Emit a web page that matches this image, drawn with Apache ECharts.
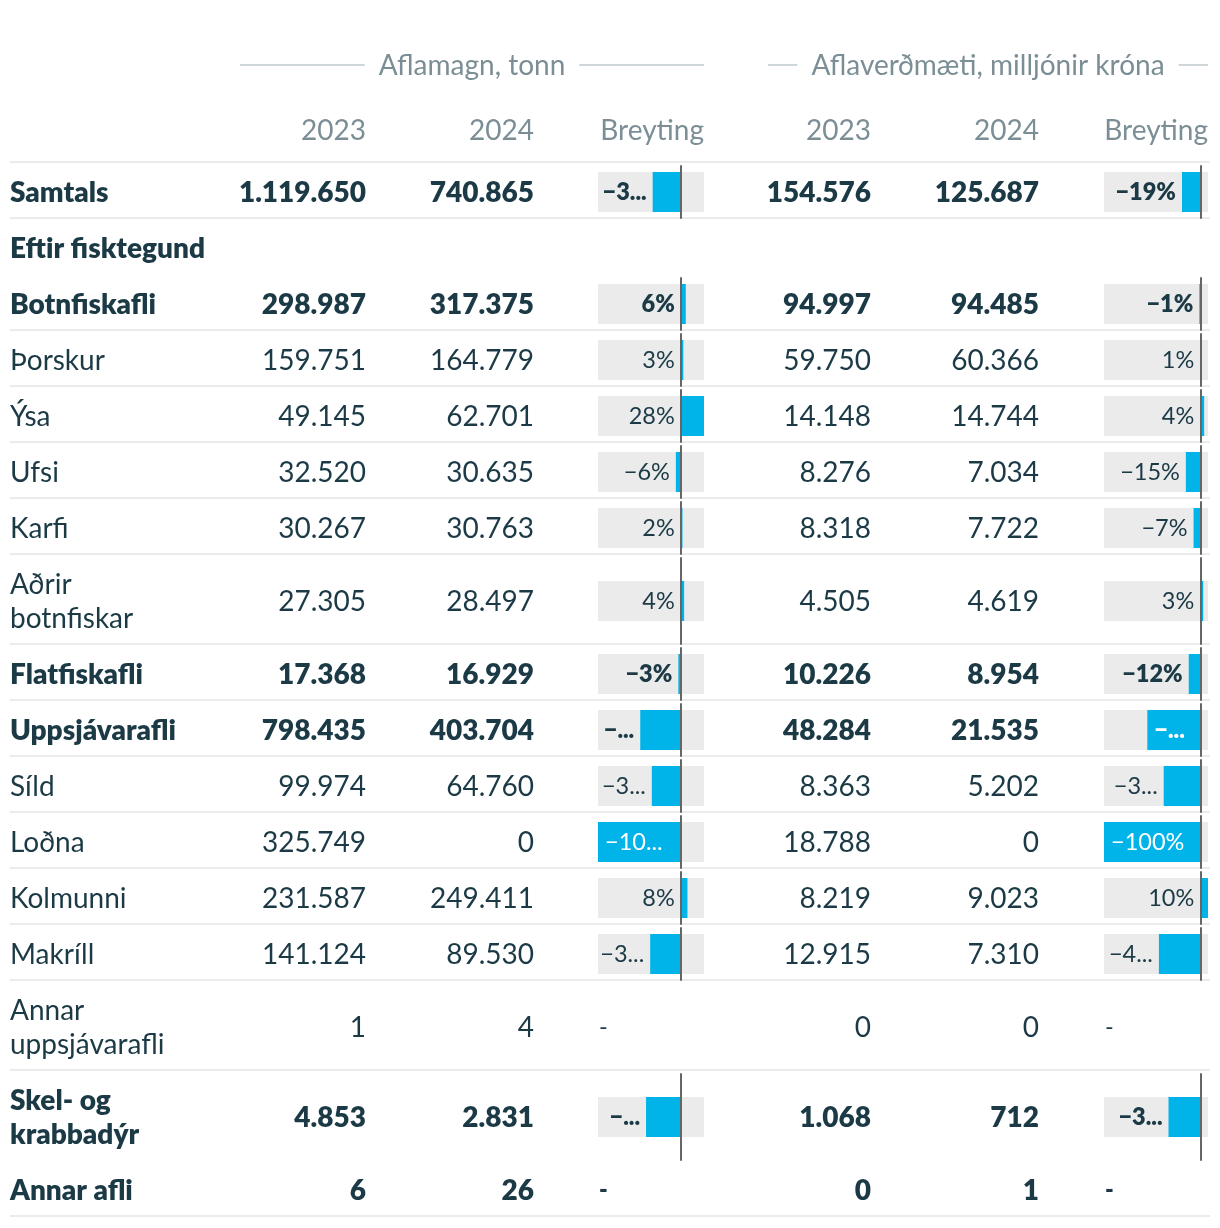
<!DOCTYPE html>
<html>
<head>
<meta charset="utf-8">
<script src="https://cdn.jsdelivr.net/npm/echarts@6/dist/echarts.min.js"></script>
<style>
html,body{margin:0;padding:0;background:#fff;}
#chart{width:1220px;height:1228px;}
</style>
</head>
<body>
<div id="chart"></div>
<script>
// ---------- DATA ----------
const groupTitles = ['Aflamagn, tonn', 'Aflaverðmæti, milljónir króna'];
const columnHeaders = ['2023', '2024', 'Breyting'];
const rowNames = ['Samtals', 'Eftir fisktegund', 'Botnfiskafli', 'Þorskur', 'Ýsa', 'Ufsi', 'Karfi',
  'Aðrir\nbotnfiskar', 'Flatfiskafli', 'Uppsjávarafli', 'Síld', 'Loðna', 'Kolmunni', 'Makríll',
  'Annar\nuppsjávarafli', 'Skel- og\nkrabbadýr', 'Annar afli'];
const boldRows = ['Samtals', 'Eftir fisktegund', 'Botnfiskafli', 'Flatfiskafli', 'Uppsjávarafli', 'Skel- og\nkrabbadýr', 'Annar afli'];
const noLineBelow = ['Eftir fisktegund', 'Skel- og\nkrabbadýr'];
const tonn2023 = [1119650, null, 298987, 159751, 49145, 32520, 30267, 27305, 17368, 798435, 99974, 325749, 231587, 141124, 1, 4853, 6];
const tonn2024 = [740865, null, 317375, 164779, 62701, 30635, 30763, 28497, 16929, 403704, 64760, 0, 249411, 89530, 4, 2831, 26];
const tonnChange = [-34, null, 6, 3, 28, -6, 2, 4, -3, -49, -35, -100, 8, -37, null, -42, null];
const kr2023 = [154576, null, 94997, 59750, 14148, 8276, 8318, 4505, 10226, 48284, 8363, 18788, 8219, 12915, 0, 1068, 0];
const kr2024 = [125687, null, 94485, 60366, 14744, 7034, 7722, 4619, 8954, 21535, 5202, 0, 9023, 7310, 0, 712, 1];
const krChange = [-19, null, -1, 1, 4, -15, -7, 3, -12, -55, -38, -100, 10, -43, null, -33, null];
const hasRowData = [true, false, true, true, true, true, true, true, true, true, true, true, true, true, true, true, true];

// ---------- STYLE / LAYOUT ----------
const FONT = 'Lato, "Noto Sans", sans-serif';
const DARK = '#1b3a46';
const GREY = '#7b8e96';
const BLUE = '#00b4ea';
const BG = '#ebebeb';
const SEP = '#ebebeb';
const BODY_SIZE = 28;
const LABEL_SIZE = 23.5;
const BOLD = 800;
const TOP = 162;
const ROW_H = 56;
const LINE_H = 34;
const NAME_X = 10;
const TABLE_RIGHT = 1210;
const numCols = [366, 534, 871, 1039];
const barCells = [
  {left: 598, width: 106, min: -100, max: 28, values: tonnChange},
  {left: 1104, width: 104, min: -100, max: 8, values: krChange}
];
const groups = [{x1: 240, x2: 704}, {x1: 768, x2: 1208}];

function fmt(n) {
  return String(n).replace(/\B(?=(\d{3})+(?!\d))/g, '.');
}
function pct(v) {
  return (v < 0 ? '\u2212' + Math.abs(v) : String(v)) + '%';
}
const mctx = document.createElement('canvas').getContext('2d');
function textW(t, size, weight) {
  mctx.font = (weight || 'normal') + ' ' + size + 'px ' + FONT;
  return mctx.measureText(t).width;
}

const graphic = [];
function txt(x, y, t, opts) {
  graphic.push({
    type: 'text', x: x, y: y, silent: true,
    style: Object.assign({
      text: t, fill: DARK, fontSize: BODY_SIZE, fontFamily: FONT, fontWeight: 'normal',
      align: 'left', verticalAlign: 'middle', lineHeight: LINE_H
    }, opts || {})
  });
}
function line(x1, y1, x2, y2, color) {
  graphic.push({
    type: 'line', silent: true,
    shape: {x1: x1, y1: y1, x2: x2, y2: y2},
    style: {stroke: color, lineWidth: 2}
  });
}

// group headers
groupTitles.forEach((t, gi) => {
  const g = groups[gi];
  const cx = (g.x1 + g.x2) / 2;
  const w = textW(t, BODY_SIZE);
  txt(cx, 66, t, {fill: GREY, align: 'center'});
  line(g.x1, 65, cx - w / 2 - 14, 65, '#cfd6d9');
  line(cx + w / 2 + 14, 65, g.x2, 65, '#cfd6d9');
});
// column headers
const headerRights = [numCols[0], numCols[1], 704, numCols[2], numCols[3], 1208];
[0, 1, 2, 0, 1, 2].forEach((ci, k) => {
  txt(headerRights[k], 131, columnHeaders[ci], {fill: GREY, align: 'right'});
});

line(NAME_X, TOP, TABLE_RIGHT, TOP, SEP);

const grids = [], xAxes = [], yAxes = [], series = [];
let y = TOP;
rowNames.forEach((name, i) => {
  const lines = name.split('\n').length;
  const h = ROW_H + LINE_H * (lines - 1);
  const cy = y + h / 2 + 2.5;
  const bold = boldRows.includes(name);
  const fw = bold ? BOLD : 'normal';
  txt(NAME_X, cy, name, {fontWeight: fw});
  if (hasRowData[i]) {
    [tonn2023[i], tonn2024[i], kr2023[i], kr2024[i]].forEach((v, k) => {
      txt(numCols[k], cy, fmt(v), {fontWeight: fw, align: 'right'});
    });
  }
  barCells.forEach((cell, ci) => {
    const v = cell.values[i];
    if (v === null) {
      if (hasRowData[i]) txt(cell.left + 1, cy, '-', {fontWeight: fw, fontSize: LABEL_SIZE});
      return;
    }
    const idx = grids.length;
    grids.push({left: cell.left, top: y + 4, width: cell.width, height: h - 4});
    xAxes.push({gridIndex: idx, type: 'value', min: cell.min, max: cell.max, show: false});
    yAxes.push({
      gridIndex: idx, type: 'category', data: [name], z: 10,
      axisLine: {show: true, onZero: true, lineStyle: {color: '#666', width: 2}},
      axisTick: {show: false}, axisLabel: {show: false}, splitLine: {show: false}
    });
    const scale = cell.width / (cell.max - cell.min);
    const zeroPx = cell.left + (0 - cell.min) * scale;
    const valPx = cell.left + (Math.max(Math.min(v, cell.max), cell.min) - cell.min) * scale;
    const barLeft = Math.min(zeroPx, valPx);
    const barW = Math.abs(valPx - zeroPx);
    const outside = barLeft - cell.left;
    const inside = barW > outside;
    const label = inside ? {
      show: true, position: 'insideLeft', distance: 7, width: Math.max(barW - 16, 10),
      overflow: 'truncate', ellipsis: '...', color: '#fff'
    } : {
      show: true, position: 'left', distance: 6, width: Math.max(outside - 6, 10),
      overflow: 'truncate', ellipsis: '...', color: DARK, align: 'right'
    };
    Object.assign(label, {
      formatter: pct(v), fontSize: LABEL_SIZE, fontFamily: FONT, fontWeight: fw
    });
    series.push({
      type: 'bar', xAxisIndex: idx, yAxisIndex: idx, silent: true,
      barWidth: 40, showBackground: true, backgroundStyle: {color: BG},
      itemStyle: {color: BLUE},
      data: [{value: v, label: label}],
      z: 2
    });
  });
  y += h;
  if (!noLineBelow.includes(name)) line(NAME_X, y, TABLE_RIGHT, y, SEP);
});

const chart = echarts.init(document.getElementById('chart'), null, {renderer: 'canvas'});
chart.setOption({
  backgroundColor: '#fff',
  animation: false,
  textStyle: {fontFamily: FONT},
  grid: grids, xAxis: xAxes, yAxis: yAxes, series: series,
  graphic: graphic
});
</script>
</body>
</html>
